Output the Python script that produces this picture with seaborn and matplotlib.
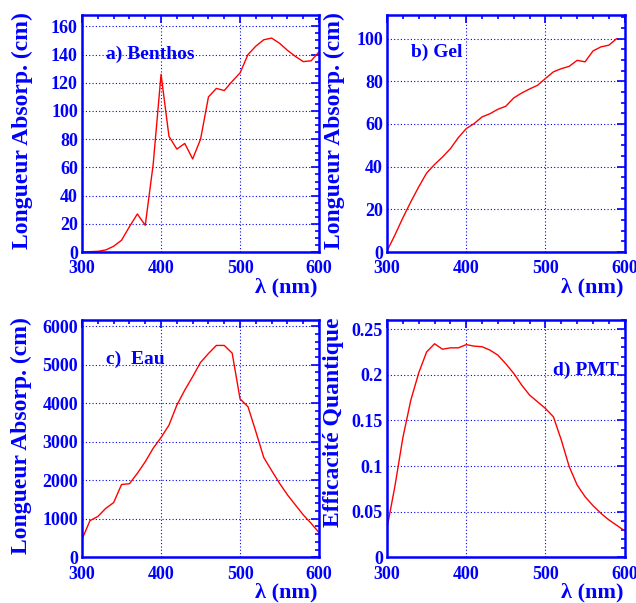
import pandas as pd
import matplotlib.pyplot as plt
import seaborn as sns
from matplotlib.ticker import MultipleLocator

# wavelengths (nm)
wl = [300, 310, 320, 330, 340, 350, 360, 370, 380, 390, 400,
      410, 420, 430, 440, 450, 460, 470, 480, 490, 500,
      510, 520, 530, 540, 550, 560, 570, 580, 590, 600]

# a) Benthos absorption length (cm)
benthos = [0, 0.3, 0.5, 1.5, 4.1, 8.4, 18, 27, 19, 62, 126,
           82, 73, 77, 66, 80, 110, 116, 114.5, 121, 127,
           140, 146, 150.5, 151.7, 148, 143, 138.7, 135, 135.6, 142]

# b) Gel absorption length (cm), stops at 590 nm
gel = [0.5, 8, 16, 23.5, 30.5, 37, 41, 44.5, 48.4, 53.6, 57.8,
       60.2, 63.3, 64.8, 66.9, 68.3, 72.2, 74.5, 76.4, 78.1, 81.3,
       84.4, 85.9, 87, 89.8, 89.1, 94.2, 96.1, 96.9, 100]

# c) water absorption length (cm)
eau = [470, 950, 1060, 1270, 1420, 1890, 1910, 2180, 2480, 2830, 3110,
       3430, 3950, 4340, 4690, 5060, 5290, 5500, 5500, 5300, 4110,
       3910, 3260, 2590, 2250, 1920, 1620, 1360, 1100, 880, 640]

# d) PMT quantum efficiency
pmt = [0.032, 0.078, 0.131, 0.172, 0.202, 0.225, 0.234, 0.228, 0.2295, 0.2295, 0.233,
       0.2314, 0.2307, 0.227, 0.2215, 0.212, 0.2015, 0.1887, 0.1777, 0.1704, 0.1631,
       0.154, 0.1285, 0.0993, 0.0792, 0.0664, 0.0566, 0.0482, 0.041, 0.035, 0.029]

BLUE = '#0000ff'
RED = '#ff0000'

sns.set_style('white')
plt.rcParams['font.family'] = ['Liberation Serif', 'DejaVu Serif']
plt.rcParams['font.weight'] = 'bold'

fig = plt.figure(figsize=(6.36, 6.03), dpi=100)

panels = [
    # x, y, ylim, major, minor, ylabel, tag, tag pos, axes rect, label x
    (wl, benthos, 168, 20, 5, 'Longueur Absorp. (cm)', 'a) Benthos', (330, 140),
     [0.129, 0.582, 0.3727, 0.393], -0.207),
    (wl[:-1], gel, 111, 20, 5, 'Longueur Absorp. (cm)', 'b) Gel', (330, 93.6),
     [0.6085, 0.582, 0.3737, 0.393], -0.177),
    (wl, eau, 6160, 1000, 200, 'Longueur Absorp. (cm)', 'c)  Eau', (330, 5150),
     [0.129, 0.0758, 0.3727, 0.3935], -0.211),
    (wl, pmt, 0.26, 0.05, 0.01, 'Efficacité Quantique', 'd) PMT', (510, 0.205),
     [0.6085, 0.0758, 0.3737, 0.3935], -0.181),
]

for x, y, ytop, major, minor, ylab, tag, tagpos, rect, labx in panels:
    ax = fig.add_axes(rect)
    df = pd.DataFrame({'wl': x, 'val': y})
    sns.lineplot(data=df, x='wl', y='val', ax=ax, color=RED, linewidth=1.0)

    ax.set_xlim(300, 600)
    ax.set_ylim(0, ytop)
    ax.xaxis.set_major_locator(MultipleLocator(100))
    ax.xaxis.set_minor_locator(MultipleLocator(20))
    ax.yaxis.set_major_locator(MultipleLocator(major))
    ax.yaxis.set_minor_locator(MultipleLocator(minor))
    if major < 1:
        ax.yaxis.set_major_formatter(plt.FuncFormatter(lambda v, p: f'{v:g}'))

    ax.grid(True, which='major', color=BLUE, linestyle=(0, (1, 2)), linewidth=0.8)
    for s in ax.spines.values():
        s.set_color(BLUE)
        s.set_linewidth(1.8)
    ax.tick_params(which='both', direction='in', top=True, right=True,
                   color=BLUE, labelcolor=BLUE, labelsize=13, width=1.2)
    ax.tick_params(which='major', length=6)
    ax.tick_params(which='minor', length=3)
    ax.tick_params(axis='x', pad=6)
    ax.tick_params(axis='y', pad=3)

    ax.set_xlabel('λ (nm)', color=BLUE, fontsize=16, fontweight='bold', loc='right')
    ax.xaxis.set_label_coords(0.995, -0.108)
    ax.set_ylabel(ylab, color=BLUE, fontsize=17, fontweight='bold', loc='top')
    ax.yaxis.set_label_coords(labx, 1.012)

    ax.text(tagpos[0], tagpos[1], tag, color=BLUE, fontsize=14, fontweight='bold',
            va='center', ha='left')

fig.savefig('out.png', dpi=100)
